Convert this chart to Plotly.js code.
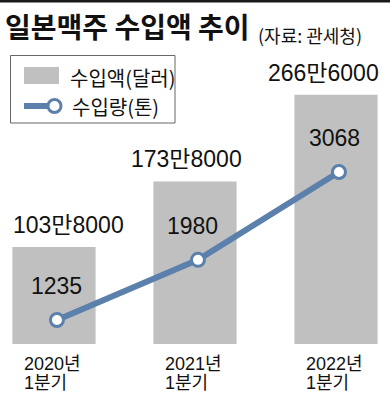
<!DOCTYPE html>
<html>
<head>
<meta charset="utf-8">
<script src="https://cdn.plot.ly/plotly-3.0.1.min.js"></script>
<style>html,body{margin:0;padding:0;background:#fff;}#chart{width:390px;height:399px;}</style>
</head>
<body>
<div id="chart"></div>
<script>
// ---- data ----
const categories = ['2020Q1', '2021Q1', '2022Q1'];
const tickLabels = ['2020년<br>1분기', '2021년<br>1분기', '2022년<br>1분기'];
const importValue = [1038000, 1738000, 2666000];          // 수입액(달러)
const importValueLabels = ['103만8000', '173만8000', '266만6000'];
const importVolume = [1235, 1980, 3068];                  // 수입량(톤)
const seriesNames = ['수입액(달러)', '수입량(톤)'];
const titleText = '일본맥주 수입액 추이';
const sourceText = '(자료: 관세청)';

// ---- style ----
const numFont = 'Liberation Sans, Arial, Noto Sans CJK KR, sans-serif';
const krFont = 'Noto Sans CJK KR, sans-serif';
const barColor = '#c0c0c0';
const lineColor = '#5b80ab';
const idx = categories.map((c, i) => i);
const barLabelShift = [14, -9, -13];
const lineLabelShift = [0, -5, -4];

const W = 390, H = 399, T = 50, B = 55;
const PH = H - T - B;
const px = v => v / W, py = v => (H - B - v) / PH;

const traces = [
  {
    type: 'bar', x: idx, y: importValue, name: seriesNames[0],
    marker: {color: barColor}, width: 0.59, hoverinfo: 'none',
    xaxis: 'x', yaxis: 'y'
  },
  {
    type: 'scatter', mode: 'lines+markers', x: idx, y: importVolume, name: seriesNames[1],
    line: {color: lineColor, width: 6},
    marker: {size: 13, color: '#ffffff', line: {color: lineColor, width: 3}},
    xaxis: 'x2', yaxis: 'y2', hoverinfo: 'none'
  }
];

const annotations = [];
idx.forEach(i => {
  annotations.push({
    xref: 'x', yref: 'y', x: i, y: importValue[i], text: importValueLabels[i],
    showarrow: false, xanchor: 'center', yanchor: 'middle', yshift: 22, xshift: barLabelShift[i],
    font: {family: numFont, size: 23, color: '#111'}
  });
  annotations.push({
    xref: 'x2', yref: 'y2', x: i, y: importVolume[i], text: String(importVolume[i]),
    showarrow: false, xanchor: 'center', yanchor: 'middle', yshift: 34, xshift: lineLabelShift[i],
    font: {family: numFont, size: 23, color: '#111'}
  });
  const parts = tickLabels[i].split('<br>');
  parts.forEach((p, k) => {
    annotations.push({
      xref: 'x', yref: 'y', x: i, y: 0, text: p,
      showarrow: false, xanchor: 'left', yanchor: 'middle', xshift: -32, yshift: -20 - 19 * k,
      font: {family: numFont, size: 18, color: '#111'}
    });
  });
});
// title + source
annotations.push({
  xref: 'paper', yref: 'paper', x: px(3), y: py(26), text: '<b>' + titleText + '</b>',
  showarrow: false, xanchor: 'left', yanchor: 'middle',
  font: {family: krFont, size: 28, color: '#111'}
});
annotations.push({
  xref: 'paper', yref: 'paper', x: px(256), y: py(35), text: sourceText,
  showarrow: false, xanchor: 'left', yanchor: 'middle',
  font: {family: krFont, size: 18, color: '#111'}
});
// legend texts
annotations.push({
  xref: 'paper', yref: 'paper', x: px(68), y: py(77), text: seriesNames[0],
  showarrow: false, xanchor: 'left', yanchor: 'middle',
  font: {family: krFont, size: 20, color: '#111'}
});
annotations.push({
  xref: 'paper', yref: 'paper', x: px(70), y: py(106), text: seriesNames[1],
  showarrow: false, xanchor: 'left', yanchor: 'middle',
  font: {family: krFont, size: 20, color: '#111'}
});

const shapes = [
  {type: 'rect', xref: 'paper', yref: 'paper', x0: 0, x1: 1, y0: py(0), y1: py(2.5), fillcolor: '#1a1a1a', line: {width: 0}},
  {type: 'rect', xref: 'paper', yref: 'paper', x0: px(10.5), x1: px(175), y0: py(55.5), y1: py(123), fillcolor: 'rgba(0,0,0,0)', line: {color: '#666', width: 1}},
  {type: 'rect', xref: 'paper', yref: 'paper', x0: px(24), x1: px(59), y0: py(67), y1: py(84), fillcolor: barColor, line: {width: 0}},
  {type: 'line', xref: 'paper', yref: 'paper', x0: px(24), x1: px(52), y0: py(106), y1: py(106), line: {color: lineColor, width: 6}},
  {type: 'circle', xref: 'paper', yref: 'paper', x0: px(48), x1: px(61), y0: py(112.5), y1: py(99.5), fillcolor: '#fff', line: {color: lineColor, width: 3}}
];

const layout = {
  width: W, height: H,
  margin: {l: 0, r: 0, t: T, b: B, pad: 0},
  paper_bgcolor: '#fff', plot_bgcolor: '#fff',
  showlegend: false,
  xaxis: {range: [-0.383, 2.383], visible: false, fixedrange: true},
  xaxis2: {range: [-0.404, 2.362], overlaying: 'x', visible: false},
  yaxis: {range: [0, 3144000], visible: false},
  yaxis2: {range: [938, 4579], overlaying: 'y', visible: false},
  annotations: annotations,
  shapes: shapes
};

Plotly.newPlot('chart', traces, layout, {displayModeBar: false, staticPlot: true});
</script>
</body>
</html>
